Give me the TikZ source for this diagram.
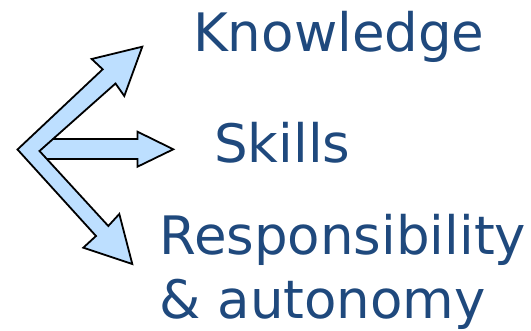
\documentclass[tikz,border=0pt]{standalone}
\usepackage{fontspec}
\setmainfont{DejaVu Sans}
\definecolor{labelblue}{RGB}{31,73,125}
\definecolor{arrowfill}{RGB}{189,223,255}
\begin{document}
\begin{tikzpicture}[x=1pt,y=-1pt,
  bigarrow/.style={draw=black,fill=arrowfill,line width=1.8pt,line join=miter},
  label/.style={text=labelblue,font=\fontsize{53}{64}\selectfont,inner sep=0pt,anchor=base west}]
\useasboundingbox (0,0) rectangle (531,331);

% middle arrow, its tail hidden under the chevron
\draw[bigarrow] (40,139) -- (137.5,139) -- (137.5,131.7) -- (173.3,149.3)
  -- (137.5,166.7) -- (137.5,159) -- (40,159) -- cycle;

% chevron with the upper and lower arrows
\draw[bigarrow] (17.5,149.5) -- (102.7,69.3) -- (91.7,59) -- (142.3,46.7)
  -- (124.3,96) -- (115.5,83.5) -- (39.5,151) -- (108.3,226) -- (119.3,214)
  -- (132.3,264) -- (83.3,247.7) -- (96,236) -- cycle;

\node[label] (know) at (193,51.7) {Knowledge};
\node[label] (skills) at (214,162.7) {Skills};
\node[label] (resp) at (159.3,254.3) {Responsibility};
\node[label] (auto) at (159.3,318.3) {\& autonomy};
\end{tikzpicture}
\end{document}
